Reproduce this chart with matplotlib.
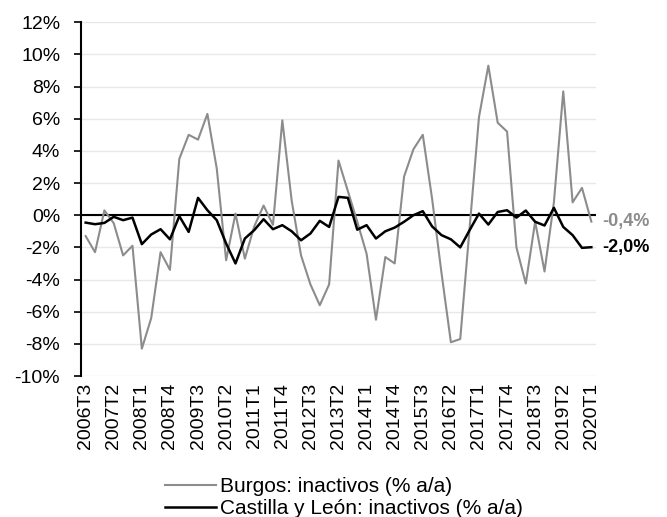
import matplotlib
matplotlib.use("Agg")
import matplotlib.pyplot as plt
from matplotlib.ticker import FuncFormatter

plt.rcParams["font.family"] = ["Liberation Sans", "DejaVu Sans"]
plt.rcParams["axes.unicode_minus"] = False

# quarters 2006T3 .. 2020T1
quarters = [f"{y}T{q}" for y in range(2006, 2021) for q in range(1, 5)][2:57]

burgos = [-1.3, -2.3, 0.3, -0.5, -2.5, -1.9, -8.3, -6.4, -2.3, -3.4,
          3.5, 5.0, 4.7, 6.3, 2.9, -2.8, 0.1, -2.7, -0.7, 0.6,
          -0.6, 5.9, 0.9, -2.5, -4.3, -5.6, -4.3, 3.4, 1.5, -0.4,
          -2.4, -6.5, -2.6, -3.0, 2.4, 4.1, 5.0, 1.0, -3.6, -7.9,
          -7.7, -0.8, 6.1, 9.3, 5.75, 5.2, -2.0, -4.25, -0.4, -3.5,
          0.8, 7.7, 0.8, 1.7, -0.4]

cyl = [-0.46, -0.56, -0.48, -0.1, -0.31, -0.15, -1.8, -1.2, -0.87, -1.5,
       -0.06, -1.04, 1.08, 0.31, -0.31, -1.76, -3.0, -1.45, -0.93, -0.25,
       -0.87, -0.62, -1.0, -1.56, -1.14, -0.35, -0.73, 1.14, 1.08, -0.9,
       -0.62, -1.45, -1.0, -0.77, -0.41, 0.0, 0.25, -0.7, -1.24, -1.5,
       -2.0, -0.93, 0.1, -0.58, 0.2, 0.31, -0.15, 0.29, -0.41, -0.64,
       0.46, -0.73, -1.24, -2.03, -1.99]

end_labels = ["-0,4%", "-2,0%"]
names = ["Burgos: inactivos (% a/a)", "Castilla y León: inactivos (% a/a)"]

fig = plt.figure(figsize=(6.67, 5.17), dpi=100)
ax = fig.add_axes([0.1214, 0.2727, 0.7722, 0.6843])

x = list(range(len(quarters)))
ax.plot(x, burgos, color="#8c8c8c", lw=1.5, label=names[0], zorder=3)
ax.plot(x, cyl, color="black", lw=1.8, label=names[1], zorder=4)

ax.set_xlim(-0.5, len(quarters) - 0.5)
ax.set_ylim(-10, 12)
ax.set_yticks(range(-10, 13, 2))
ax.yaxis.set_major_formatter(FuncFormatter(lambda v, p: f"{v:.0f}%"))
ax.grid(axis="y", color="#e8e8e8", lw=1.0, zorder=0)
ax.axhline(0, color="black", lw=1.5, zorder=2)

ax.set_xticks(x[::3])
ax.set_xticklabels(quarters[::3], rotation=90, fontsize=14)
ax.tick_params(axis="x", length=0, pad=5)
ax.tick_params(axis="y", labelsize=14, length=5, width=1.2, direction="out", pad=10)

for s in ["top", "right", "bottom"]:
    ax.spines[s].set_visible(False)
ax.spines["left"].set_linewidth(1.5)

ax.text(len(quarters) + 0.2, burgos[-1], end_labels[0], color="#8c8c8c",
        fontsize=13, fontweight="bold", va="center", ha="left", clip_on=False)
ax.text(len(quarters) + 0.2, cyl[-1], end_labels[1], color="black",
        fontsize=13, fontweight="bold", va="center", ha="left", clip_on=False)

fig.legend(loc="upper left", bbox_to_anchor=(0.232, 0.097), frameon=False,
           fontsize=15, handlelength=2.45, handletextpad=0.2,
           labelspacing=0.15, borderpad=0)

fig.savefig("out.png", dpi=100)
